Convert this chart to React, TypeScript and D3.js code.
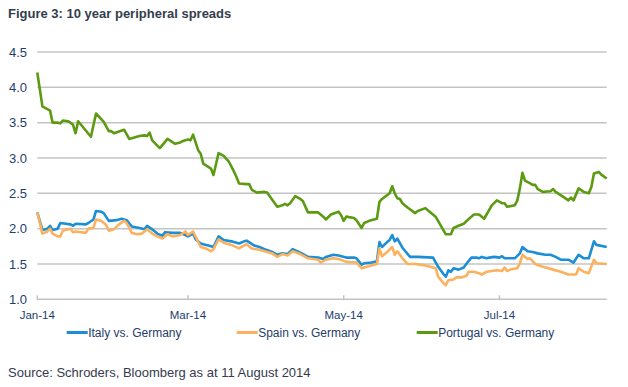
import React from 'react';
import * as d3 from 'd3';

// ─── data ────────────────────────────────────────────────────

type Pt = [string, number];

const italy: Pt[] = [
  ['2014-01-01', 2.23], ['2014-01-03', 1.98], ['2014-01-05', 2.0], ['2014-01-06', 2.04],
  ['2014-01-07', 1.98], ['2014-01-09', 2.0], ['2014-01-10', 2.08], ['2014-01-14', 2.06],
  ['2014-01-15', 2.04], ['2014-01-16', 2.07], ['2014-01-20', 2.06], ['2014-01-21', 2.08],
  ['2014-01-23', 2.13], ['2014-01-24', 2.25], ['2014-01-26', 2.24], ['2014-01-27', 2.22],
  ['2014-01-29', 2.11], ['2014-02-01', 2.12], ['2014-02-03', 2.14], ['2014-02-05', 2.12],
  ['2014-02-07', 2.03], ['2014-02-10', 2.01], ['2014-02-12', 1.99], ['2014-02-13', 2.04],
  ['2014-02-15', 1.99], ['2014-02-17', 1.93], ['2014-02-19', 1.9], ['2014-02-20', 1.95],
  ['2014-02-23', 1.94], ['2014-02-26', 1.94], ['2014-02-28', 1.91], ['2014-03-01', 1.89],
  ['2014-03-03', 1.93], ['2014-03-04', 1.85], ['2014-03-06', 1.79], ['2014-03-07', 1.78],
  ['2014-03-09', 1.76], ['2014-03-11', 1.74], ['2014-03-13', 1.89], ['2014-03-15', 1.84],
  ['2014-03-18', 1.82], ['2014-03-21', 1.79], ['2014-03-23', 1.82], ['2014-03-24', 1.83],
  ['2014-03-27', 1.76], ['2014-03-29', 1.74], ['2014-03-31', 1.71], ['2014-04-03', 1.67],
  ['2014-04-05', 1.63], ['2014-04-07', 1.65], ['2014-04-09', 1.64], ['2014-04-11', 1.71],
  ['2014-04-14', 1.66], ['2014-04-17', 1.6], ['2014-04-21', 1.59], ['2014-04-23', 1.57],
  ['2014-04-24', 1.6], ['2014-04-27', 1.63], ['2014-04-29', 1.62], ['2014-05-02', 1.59],
  ['2014-05-05', 1.59], ['2014-05-06', 1.58], ['2014-05-08', 1.49], ['2014-05-09', 1.51],
  ['2014-05-12', 1.52], ['2014-05-14', 1.54], ['2014-05-15', 1.81], ['2014-05-16', 1.74],
  ['2014-05-18', 1.81], ['2014-05-19', 1.84], ['2014-05-20', 1.91], ['2014-05-21', 1.82],
  ['2014-05-22', 1.86], ['2014-05-24', 1.73], ['2014-05-27', 1.6], ['2014-05-30', 1.6],
  ['2014-06-05', 1.59], ['2014-06-07', 1.46], ['2014-06-09', 1.36], ['2014-06-10', 1.32],
  ['2014-06-11', 1.41], ['2014-06-12', 1.39], ['2014-06-13', 1.44], ['2014-06-15', 1.42],
  ['2014-06-17', 1.45], ['2014-06-18', 1.5], ['2014-06-20', 1.59], ['2014-06-22', 1.59],
  ['2014-06-23', 1.58], ['2014-06-24', 1.6], ['2014-06-26', 1.58], ['2014-06-27', 1.59],
  ['2014-06-29', 1.6], ['2014-07-01', 1.59], ['2014-07-02', 1.61], ['2014-07-03', 1.58],
  ['2014-07-07', 1.58], ['2014-07-09', 1.65], ['2014-07-10', 1.74], ['2014-07-12', 1.68],
  ['2014-07-14', 1.67], ['2014-07-16', 1.65], ['2014-07-19', 1.63], ['2014-07-21', 1.63],
  ['2014-07-23', 1.6], ['2014-07-25', 1.56], ['2014-07-28', 1.56], ['2014-07-30', 1.52],
  ['2014-08-01', 1.63], ['2014-08-03', 1.58], ['2014-08-05', 1.58], ['2014-08-07', 1.82],
  ['2014-08-08', 1.77], ['2014-08-12', 1.74],
];

const spain: Pt[] = [
  ['2014-01-01', 2.23], ['2014-01-03', 1.93], ['2014-01-05', 1.96], ['2014-01-06', 2.0],
  ['2014-01-07', 1.93], ['2014-01-09', 1.89], ['2014-01-10', 1.89], ['2014-01-11', 1.97],
  ['2014-01-12', 1.98], ['2014-01-14', 2.0], ['2014-01-15', 1.95], ['2014-01-16', 1.96],
  ['2014-01-20', 1.94], ['2014-01-21', 2.0], ['2014-01-23', 2.01], ['2014-01-24', 2.13],
  ['2014-01-26', 2.11], ['2014-01-28', 2.05], ['2014-01-29', 1.97], ['2014-01-31', 1.99],
  ['2014-02-02', 2.06], ['2014-02-04', 2.11], ['2014-02-05', 2.08], ['2014-02-07', 1.94],
  ['2014-02-09', 1.92], ['2014-02-11', 1.93], ['2014-02-13', 1.99], ['2014-02-15', 1.93],
  ['2014-02-17', 1.89], ['2014-02-19', 1.86], ['2014-02-21', 1.92], ['2014-02-23', 1.89],
  ['2014-02-26', 1.91], ['2014-02-28', 1.96], ['2014-03-01', 1.91], ['2014-03-03', 1.96],
  ['2014-03-06', 1.74], ['2014-03-08', 1.72], ['2014-03-10', 1.68], ['2014-03-11', 1.71],
  ['2014-03-13', 1.85], ['2014-03-15', 1.8], ['2014-03-18', 1.77], ['2014-03-21', 1.72],
  ['2014-03-24', 1.78], ['2014-03-26', 1.72], ['2014-03-29', 1.7], ['2014-03-31', 1.68],
  ['2014-04-03', 1.65], ['2014-04-05', 1.6], ['2014-04-07', 1.64], ['2014-04-09', 1.62],
  ['2014-04-11', 1.68], ['2014-04-14', 1.64], ['2014-04-17', 1.58], ['2014-04-21', 1.56],
  ['2014-04-22', 1.52], ['2014-04-24', 1.56], ['2014-04-27', 1.58], ['2014-04-29', 1.57],
  ['2014-05-02', 1.53], ['2014-05-06', 1.52], ['2014-05-08', 1.44], ['2014-05-10', 1.46],
  ['2014-05-14', 1.5], ['2014-05-15', 1.72], ['2014-05-16', 1.61], ['2014-05-18', 1.67],
  ['2014-05-20', 1.74], ['2014-05-21', 1.63], ['2014-05-22', 1.68], ['2014-05-24', 1.58],
  ['2014-05-26', 1.5], ['2014-05-29', 1.5], ['2014-06-02', 1.48], ['2014-06-06', 1.44],
  ['2014-06-07', 1.32], ['2014-06-09', 1.23], ['2014-06-10', 1.2], ['2014-06-11', 1.27],
  ['2014-06-13', 1.28], ['2014-06-14', 1.31], ['2014-06-16', 1.31], ['2014-06-18', 1.33],
  ['2014-06-19', 1.39], ['2014-06-21', 1.39], ['2014-06-23', 1.37], ['2014-06-24', 1.35],
  ['2014-06-26', 1.39], ['2014-06-28', 1.4], ['2014-06-30', 1.41], ['2014-07-02', 1.4],
  ['2014-07-03', 1.45], ['2014-07-04', 1.4], ['2014-07-06', 1.43], ['2014-07-08', 1.44],
  ['2014-07-09', 1.51], ['2014-07-10', 1.63], ['2014-07-12', 1.57], ['2014-07-13', 1.58],
  ['2014-07-15', 1.5], ['2014-07-18', 1.46], ['2014-07-22', 1.42], ['2014-07-25', 1.39],
  ['2014-07-28', 1.35], ['2014-07-31', 1.35], ['2014-08-01', 1.44], ['2014-08-03', 1.39],
  ['2014-08-05', 1.37], ['2014-08-07', 1.56], ['2014-08-08', 1.51], ['2014-08-12', 1.5],
];

const portugal: Pt[] = [
  ['2014-01-01', 4.21], ['2014-01-03', 3.73], ['2014-01-06', 3.67], ['2014-01-07', 3.5],
  ['2014-01-09', 3.5], ['2014-01-10', 3.49], ['2014-01-11', 3.53], ['2014-01-13', 3.52],
  ['2014-01-14', 3.5], ['2014-01-15', 3.47], ['2014-01-16', 3.35], ['2014-01-17', 3.52],
  ['2014-01-22', 3.3], ['2014-01-24', 3.63], ['2014-01-27', 3.51], ['2014-01-29', 3.38],
  ['2014-01-30', 3.38], ['2014-01-31', 3.35], ['2014-02-04', 3.4], ['2014-02-06', 3.27],
  ['2014-02-10', 3.31], ['2014-02-12', 3.32], ['2014-02-13', 3.31], ['2014-02-14', 3.36],
  ['2014-02-15', 3.25], ['2014-02-18', 3.14], ['2014-02-21', 3.27], ['2014-02-24', 3.2],
  ['2014-02-26', 3.22], ['2014-02-27', 3.24], ['2014-03-01', 3.26], ['2014-03-02', 3.25],
  ['2014-03-03', 3.33], ['2014-03-05', 3.11], ['2014-03-06', 3.06], ['2014-03-07', 2.92],
  ['2014-03-10', 2.85], ['2014-03-11', 2.76], ['2014-03-13', 3.07], ['2014-03-15', 3.03],
  ['2014-03-17', 2.95], ['2014-03-19', 2.81], ['2014-03-20', 2.73], ['2014-03-21', 2.64],
  ['2014-03-24', 2.63], ['2014-03-25', 2.63], ['2014-03-26', 2.55], ['2014-03-28', 2.51],
  ['2014-03-31', 2.52], ['2014-04-01', 2.51], ['2014-04-03', 2.41], ['2014-04-05', 2.31],
  ['2014-04-07', 2.33], ['2014-04-08', 2.35], ['2014-04-09', 2.33], ['2014-04-10', 2.36],
  ['2014-04-12', 2.46], ['2014-04-14', 2.42], ['2014-04-15', 2.39], ['2014-04-17', 2.23],
  ['2014-04-20', 2.23], ['2014-04-21', 2.23], ['2014-04-23', 2.17], ['2014-04-24', 2.13],
  ['2014-04-26', 2.2], ['2014-04-29', 2.24], ['2014-04-30', 2.19], ['2014-05-01', 2.11],
  ['2014-05-02', 2.17], ['2014-05-05', 2.15], ['2014-05-06', 2.12], ['2014-05-08', 2.01],
  ['2014-05-09', 2.08], ['2014-05-11', 2.11], ['2014-05-14', 2.14], ['2014-05-15', 2.38],
  ['2014-05-16', 2.42], ['2014-05-19', 2.5], ['2014-05-20', 2.6], ['2014-05-21', 2.5],
  ['2014-05-22', 2.43], ['2014-05-23', 2.42], ['2014-05-24', 2.36], ['2014-05-26', 2.3],
  ['2014-05-29', 2.22], ['2014-05-30', 2.25], ['2014-06-02', 2.29], ['2014-06-06', 2.17],
  ['2014-06-10', 1.92], ['2014-06-12', 1.92], ['2014-06-13', 2.01], ['2014-06-15', 2.04],
  ['2014-06-17', 2.07], ['2014-06-20', 2.17], ['2014-06-21', 2.2], ['2014-06-23', 2.2],
  ['2014-06-25', 2.14], ['2014-06-28', 2.33], ['2014-06-30', 2.4], ['2014-07-02', 2.36],
  ['2014-07-03', 2.36], ['2014-07-04', 2.31], ['2014-07-07', 2.33], ['2014-07-08', 2.4],
  ['2014-07-09', 2.57], ['2014-07-10', 2.79], ['2014-07-11', 2.68], ['2014-07-13', 2.64],
  ['2014-07-14', 2.62], ['2014-07-15', 2.62], ['2014-07-16', 2.56], ['2014-07-18', 2.52],
  ['2014-07-21', 2.53], ['2014-07-22', 2.56], ['2014-07-23', 2.52], ['2014-07-26', 2.45],
  ['2014-07-28', 2.4], ['2014-07-29', 2.44], ['2014-07-30', 2.4], ['2014-08-01', 2.57],
  ['2014-08-03', 2.52], ['2014-08-05', 2.5], ['2014-08-06', 2.59], ['2014-08-07', 2.78],
  ['2014-08-09', 2.8], ['2014-08-10', 2.76], ['2014-08-12', 2.71],
];

const seriesNames = ['Italy vs. Germany', 'Spain vs. Germany', 'Portugal vs. Germany'];
const seriesColors = ['#1b8ed6', '#fbb15e', '#5c9a12'];
const yTicks = [1.0, 1.5, 2.0, 2.5, 3.0, 3.5, 4.0, 4.5];
const xTickDates = ['2014-01-01', '2014-03-01', '2014-05-01', '2014-07-01'];
const xDomain = ['2014-01-01', '2014-08-12'];

const TITLE = 'Figure 3: 10 year peripheral spreads';
const SOURCE = 'Source: Schroders, Bloomberg as at 11 August 2014';

// ─── chart ──────────────────────────────────────────────────

const W = 628;
const H = 387;
const FONT = '"Liberation Sans", Arial, sans-serif';
const NAVY = '#1d3d6d';
const GRID = '#c4c4c4';

const parse = d3.utcParse('%Y-%m-%d');

export default function App() {
  const x = d3.scaleUtc()
    .domain(xDomain.map(s => parse(s)!))
    .range([37.3, 606.7]);
  const y = d3.scaleLinear().domain([1, 4.5]).range([299.3, 52]);

  const line = d3.line<Pt>()
    .x(d => x(parse(d[0])!))
    .y(d => y(d[1]));

  const all = [italy, spain, portugal];
  const fmt = d3.utcFormat('%b-%y');
  const [x0, x1] = x.range();

  // legend slots: line start x
  const legendX = [66.7, 236.7, 416.7];

  return (
    <svg width={W} height={H}
      style={{ position: 'absolute', left: 0, top: 0, background: '#fff' }}
      fontFamily={FONT}>
      <text x={8} y={17.5} fontSize={13} fontWeight="bold" fill="#333d4d">{TITLE}</text>

      {/* grid + y labels */}
      {yTicks.map(t => (
        <g key={t}>
          <line x1={x0} x2={x1} y1={y(t)} y2={y(t)} stroke={GRID} strokeWidth={1.5} />
          <text x={27} y={y(t)} dy="0.36em" textAnchor="end" fontSize={13} fill={NAVY}>
            {t.toFixed(1)}
          </text>
        </g>
      ))}

      {/* x ticks */}
      {xTickDates.map(s => {
        const px = x(parse(s)!);
        return (
          <g key={s}>
            <line x1={px} x2={px} y1={y(1) - 4} y2={y(1) + 1} stroke={GRID} strokeWidth={1.5} />
            <text x={px} y={318.5} textAnchor="middle" fontSize={11.5} fill={NAVY}>
              {fmt(parse(s)!)}
            </text>
          </g>
        );
      })}

      {/* series */}
      {all.map((data, i) => (
        <path key={i} d={line(data) ?? ''} fill="none" stroke={seriesColors[i]}
          strokeWidth={2.6} strokeLinejoin="round" />
      ))}

      {/* legend */}
      {seriesNames.map((name, i) => (
        <g key={name}>
          <line x1={legendX[i]} x2={legendX[i] + 21} y1={332.5} y2={332.5}
            stroke={seriesColors[i]} strokeWidth={3} />
          <text x={legendX[i] + 21.5} y={337} fontSize={12} fill={NAVY}>{name}</text>
        </g>
      ))}

      <text x={8} y={376.5} fontSize={13} fill="#363a4e">{SOURCE}</text>
    </svg>
  );
}
